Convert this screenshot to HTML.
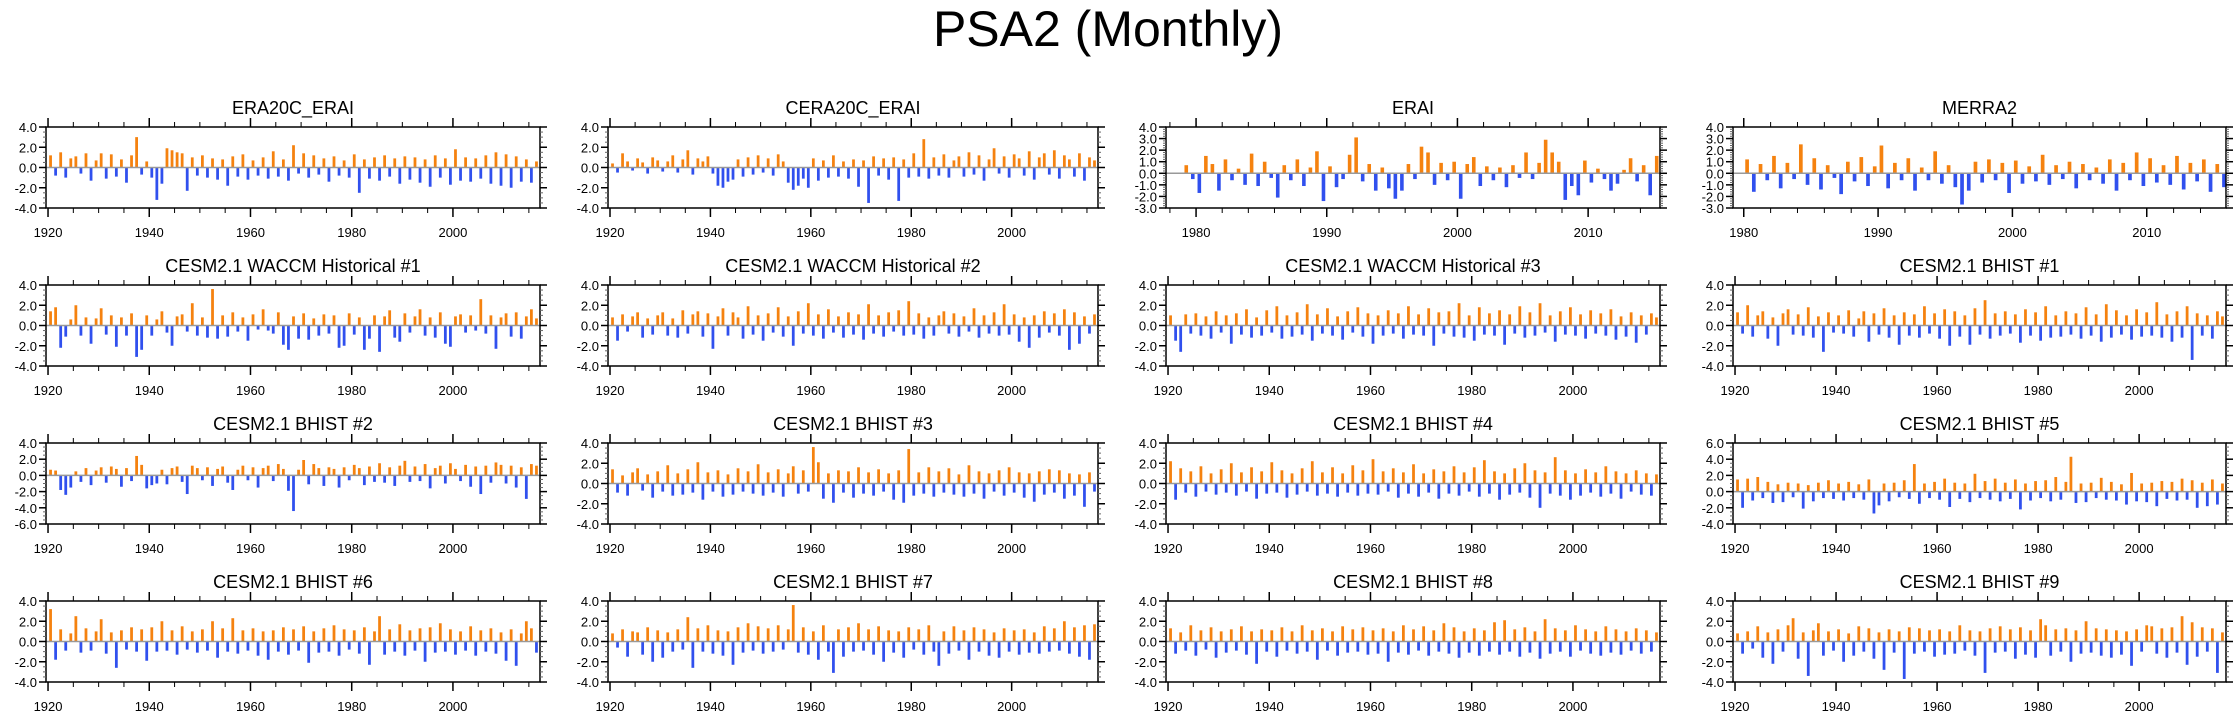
<!DOCTYPE html>
<html><head><meta charset="utf-8">
<style>
html,body{margin:0;padding:0;background:#fff;}
svg{display:block;font-family:"Liberation Sans",Arial,sans-serif;}
</style></head>
<body>
<svg id="fig" width="2238" height="719" viewBox="0 0 2238 719" xmlns="http://www.w3.org/2000/svg">
<text x="1108" y="46" font-size="50" text-anchor="middle" fill="#000">PSA2 (Monthly)</text>
</svg>
<script>
const titles = ["ERA20C_ERAI","CERA20C_ERAI","ERAI","MERRA2",
"CESM2.1 WACCM Historical #1","CESM2.1 WACCM Historical #2","CESM2.1 WACCM Historical #3","CESM2.1 BHIST #1",
"CESM2.1 BHIST #2","CESM2.1 BHIST #3","CESM2.1 BHIST #4","CESM2.1 BHIST #5",
"CESM2.1 BHIST #6","CESM2.1 BHIST #7","CESM2.1 BHIST #8","CESM2.1 BHIST #9"];
const yMin = [-4,-4,-3,-3, -4,-4,-4,-4, -6,-4,-4,-4, -4,-4,-4,-4];
const yMax = [4,4,4,4, 4,4,4,4, 4,4,4,6, 4,4,4,4];
const yStep = [2,2,1,1, 2,2,2,2, 2,2,2,2, 2,2,2,2];
const startYear = [1920,1920,1979,1980, 1920,1920,1920,1920, 1920,1920,1920,1920, 1920,1920,1920,1920];
const xStart = [1919.6,1919.6,1977.7,1979.2, 1919.6,1919.6,1919.6,1919.6, 1919.6,1919.6,1919.6,1919.6, 1919.6,1919.6,1919.6,1919.6];
const xEnd = [2017.2,2017.2,2015.5,2015.9, 2017.2,2017.2,2017.2,2017.2, 2017.2,2017.2,2017.2,2017.2, 2017.2,2017.2,2017.2,2017.2];
const yearTicksLong = [1920,1940,1960,1980,2000];
const yearTicksShort = [1980,1990,2000,2010];

const d0 = [1.2,-0.8,1.5,-1.0,0.9,1.1,-0.6,1.4,-1.3,0.7,1.4,-1.1,1.3,-0.9,0.8,-1.5,1.2,3.0,-0.7,0.6,-1.0,-3.2,-1.6,1.9,1.7,1.5,1.4,-2.3,1.0,-0.8,1.2,-1.0,0.9,-1.2,0.8,-1.8,1.1,-0.9,1.3,-1.2,0.7,-0.8,1.0,-1.1,1.6,-0.9,0.8,-1.3,2.2,-0.6,1.4,-1.0,1.2,-0.7,0.9,-1.4,1.1,-0.8,0.7,-1.0,1.3,-2.5,0.8,-1.1,1.0,-1.3,1.2,-0.9,0.9,-1.6,1.1,-1.2,1.0,-1.5,0.8,-1.9,1.2,-1.0,0.9,-1.7,1.8,-1.3,1.0,-1.4,0.9,-1.1,1.2,-1.6,1.5,-1.8,1.3,-2.0,1.1,-1.4,0.8,-1.5,0.6];
const d1 = [0.4,-0.5,1.4,0.6,-0.3,0.9,0.5,-0.6,1.0,0.7,-0.4,0.6,1.2,-0.5,0.8,1.7,-0.7,0.9,0.6,1.1,-0.6,-1.8,-2.0,-1.4,-1.2,0.8,-0.9,1.0,-0.7,1.2,-0.5,0.9,-0.8,1.3,0.6,-1.5,-2.2,-1.8,-1.1,-2.0,0.9,-1.3,0.7,-1.0,1.2,-0.9,0.6,-1.1,0.8,-1.9,0.7,-3.5,1.1,-0.8,0.9,-1.2,1.0,-3.3,0.8,-1.0,1.4,-0.9,2.8,-1.1,1.0,-0.8,1.3,-1.0,0.7,1.1,-0.9,1.5,-0.7,1.2,-1.3,0.8,1.9,-0.6,1.1,-1.0,1.3,0.9,-0.8,1.6,-1.2,1.0,1.4,-0.7,1.7,-1.1,1.2,0.8,-0.9,1.4,-1.3,1.0,0.7];
const d2 = [0.7,-0.5,-1.7,1.5,0.8,-1.5,1.2,-0.6,0.4,-1.0,1.7,-1.1,1.0,-0.4,-2.1,0.7,-0.6,1.2,-1.1,0.5,1.9,-2.4,0.6,-1.2,-0.5,1.6,3.1,-0.7,0.8,-1.5,0.5,-1.3,-2.2,-1.5,0.8,-0.5,2.3,1.8,-1.0,0.9,-0.6,1.0,-2.2,0.8,1.4,-1.1,0.6,-0.6,0.5,-1.2,0.7,-0.4,1.8,-0.5,0.9,2.9,1.8,1.0,-2.3,-1.1,-1.9,1.1,-0.8,0.4,-0.5,-1.5,-0.9,0.3,1.3,-0.7,0.7,-1.9,1.5];
const d3 = [1.2,-1.6,0.8,-0.6,1.5,-1.3,0.9,-0.5,2.5,-1.0,1.3,-1.4,0.7,-0.4,-1.8,1.0,-0.7,1.4,-1.1,0.6,2.4,-1.3,0.9,-0.6,1.3,-1.5,0.5,-0.6,1.9,-0.9,0.7,-1.2,-2.7,-1.5,1.0,-0.8,1.2,-0.6,0.9,-1.7,1.1,-0.9,0.6,-0.7,1.6,-1.0,0.7,-0.5,1.0,-1.3,0.8,-0.6,0.5,-0.9,1.2,-1.5,0.9,-0.6,1.8,-1.1,1.3,-0.8,0.7,-1.0,1.5,-1.4,0.9,-0.7,1.2,-1.6,0.8,-1.2];
const d4 = [1.4,1.8,-2.2,-1.1,0.6,2.0,-1.0,0.8,-1.8,0.7,1.7,-0.9,1.0,-2.1,0.8,-1.0,1.2,-3.1,-2.4,1.0,-1.0,0.6,1.4,-0.7,-2.0,0.9,1.1,-0.6,2.2,-1.0,0.8,-1.2,3.6,-1.3,1.0,-1.1,1.3,-0.6,0.8,-1.5,1.1,-0.4,1.6,-0.5,-0.8,1.3,-1.9,-2.4,0.9,-1.3,1.2,-1.4,0.7,-1.0,1.1,-0.8,1.0,-2.2,-2.0,1.2,-0.9,0.8,-2.4,-1.3,1.0,-2.6,0.9,1.5,-1.2,-1.6,1.2,-0.7,0.9,1.6,-1.0,0.8,-1.2,1.3,-1.8,-2.1,0.9,1.1,-0.7,1.0,-0.5,2.6,-0.8,1.0,-2.3,0.8,1.2,-1.1,1.3,-1.3,0.9,1.6,0.7];
const d5 = [0.8,-1.5,1.1,-0.6,0.9,1.3,-1.2,0.7,-0.9,1.0,1.3,-1.0,0.7,-1.2,1.5,-0.8,1.1,1.4,-1.1,1.2,-2.3,0.9,1.7,-1.0,1.3,0.8,-1.3,1.9,-0.9,1.0,-1.5,1.2,-0.7,1.8,-1.1,0.9,-2.0,1.4,-0.8,2.2,-1.0,1.1,-1.3,1.6,-0.7,0.9,-1.2,1.3,-0.9,1.1,-1.4,2.1,-0.8,1.0,-1.1,1.3,-0.6,1.5,-1.0,2.4,-0.9,1.2,-1.3,0.8,-1.0,1.0,1.4,-0.8,1.2,-1.1,0.9,-0.6,1.7,-1.2,1.0,-0.8,1.3,-1.0,2.1,-0.9,1.1,-1.6,0.8,-2.2,1.0,-1.2,1.4,-0.7,1.2,-1.0,1.6,-2.4,1.3,-1.8,0.9,-0.8,1.1];
const d6 = [1.0,-1.5,-2.6,1.1,-0.8,1.2,-1.0,0.9,-1.3,1.4,-0.7,1.0,-1.8,1.2,-0.9,1.6,-1.2,0.8,-1.0,1.5,-0.7,1.9,-1.3,1.0,-1.1,1.3,-0.9,2.1,-1.5,1.1,-0.8,1.7,-1.0,0.9,-1.4,1.4,-0.7,1.8,-1.1,1.2,-1.8,1.0,-1.0,1.5,-0.8,1.2,-1.3,1.9,-0.9,1.1,-1.0,1.7,-2.0,1.3,-0.8,1.4,-1.1,2.2,-1.2,1.0,-1.5,1.8,-0.9,1.2,-1.0,1.5,-1.9,1.1,-0.8,1.9,-1.2,1.3,-1.0,2.2,-0.7,1.0,-1.6,1.4,-0.9,1.8,-1.0,1.1,-1.3,1.5,-0.8,1.2,-1.0,1.6,-1.4,0.9,-1.1,1.3,-1.7,1.0,-0.9,1.2,0.8];
const d7 = [1.3,-0.8,2.0,-1.1,1.0,1.4,-1.3,0.8,-2.0,1.2,1.6,-0.9,1.1,-1.0,1.8,-1.2,0.9,-2.6,1.3,-0.7,1.0,-0.8,1.5,-1.1,0.7,1.4,-1.6,1.2,-0.9,1.7,-1.2,1.0,-1.9,1.3,-1.0,1.1,-1.2,1.9,-0.8,1.2,-1.3,1.6,-2.0,1.4,-1.1,1.0,-1.9,1.7,-0.9,2.5,-1.3,1.2,-1.0,1.4,-0.8,1.1,-1.7,1.6,-1.0,1.3,-1.5,1.9,-1.2,1.0,-1.1,1.4,-0.9,1.2,-1.3,1.8,-1.0,1.1,-1.6,2.1,-1.2,1.5,-0.9,1.0,-1.4,1.6,-1.1,1.3,-1.0,2.3,-1.2,1.1,-1.6,1.4,-1.2,1.9,-3.4,1.2,-1.0,1.0,-1.3,1.4,0.9];
const d8 = [0.7,0.6,-1.8,-2.4,-1.5,0.5,-0.8,0.9,-1.2,0.6,1.0,-0.9,1.1,0.8,-1.4,0.9,-0.7,2.4,1.3,-1.6,-1.2,-1.0,0.7,-1.1,0.9,1.1,-0.8,-2.3,1.2,0.9,-0.6,1.0,-1.3,0.8,1.1,-0.9,-1.8,0.7,1.2,-0.6,1.0,-1.5,0.9,1.2,-0.7,1.4,0.8,-1.9,-4.4,0.7,1.9,-1.1,1.4,0.9,-1.3,1.0,0.8,-1.5,1.0,-0.6,1.3,0.9,-1.2,1.1,-0.8,1.5,-0.9,1.0,-1.3,1.2,1.8,-0.8,1.1,-0.7,1.4,-1.6,0.9,1.2,-1.0,1.5,0.8,-0.7,1.3,-1.4,1.1,-2.3,1.2,-0.9,1.6,1.3,-1.0,1.2,-1.5,1.0,-2.9,1.4,1.2];
const d9 = [1.4,-0.9,0.8,-1.2,1.1,1.5,-0.7,0.9,-1.4,1.2,-0.8,1.8,-1.2,1.0,-1.1,1.4,-0.9,2.1,-1.6,1.1,-0.8,1.3,-1.3,0.9,-1.1,1.5,-0.8,1.2,-1.0,1.9,-1.2,1.1,-0.9,1.4,-1.3,1.0,1.7,-1.0,1.3,-0.8,3.6,2.1,-1.5,1.0,-1.9,1.3,-0.9,1.2,-1.4,1.6,-1.0,1.1,-1.2,1.4,-0.8,1.0,-1.6,1.3,-1.9,3.4,-1.2,1.1,-1.0,1.6,-1.3,1.2,-0.9,1.5,-1.1,0.9,-1.3,1.8,-1.0,1.2,-1.5,1.0,-0.8,1.3,-1.2,1.6,-0.9,1.1,-1.4,1.0,-1.8,1.2,-1.1,1.4,-0.9,1.3,-1.5,1.0,-1.2,0.9,-2.3,1.1,-0.8];
const d10 = [2.2,-1.6,1.5,-0.9,1.2,-1.3,1.7,-0.8,1.0,-1.1,1.4,-0.9,2.0,-1.2,1.1,-0.8,1.6,-1.5,1.2,-1.0,2.1,-0.9,1.3,-1.4,1.0,-1.1,1.5,-0.8,2.2,-1.2,1.1,-1.0,1.6,-1.3,1.0,-0.9,1.8,-1.2,1.3,-1.0,2.4,-1.1,1.2,-0.8,1.5,-1.4,1.1,-1.0,1.9,-1.3,1.0,-0.9,1.4,-1.5,1.2,-1.0,1.7,-1.2,1.1,-0.8,1.6,-1.3,2.3,-1.0,1.2,-1.6,1.0,-1.1,1.5,-0.9,2.0,-1.4,1.3,-2.4,1.1,-1.0,2.6,-1.2,1.3,-1.6,1.0,-1.2,1.4,-0.9,1.1,-1.3,1.7,-1.0,1.2,-1.5,1.0,-0.8,1.3,-1.1,1.0,-1.2,0.9];
const d11 = [1.5,-2.0,1.6,-1.1,1.8,-0.8,1.2,-1.4,0.9,-1.3,1.1,-0.7,1.0,-2.1,0.8,-1.2,1.1,-0.8,1.4,-0.9,1.0,-1.1,1.2,-0.8,0.9,-1.0,1.5,-2.7,-1.7,1.0,-1.2,1.1,-0.7,1.4,-0.9,3.4,-1.5,1.0,-0.8,1.2,-1.0,1.6,-1.9,1.1,-0.9,1.0,-1.3,2.2,-0.8,1.3,-1.0,1.6,-1.2,1.1,-0.9,1.5,-2.2,1.0,-1.1,1.3,-0.8,1.4,-1.2,1.8,-1.0,1.2,4.3,-1.4,1.0,-1.3,1.1,-0.8,1.7,-1.0,1.2,-1.1,0.9,-1.6,2.3,-1.2,1.0,-1.3,1.1,-1.8,1.3,-0.9,1.2,-1.1,1.6,-1.0,1.4,-2.0,1.1,-1.8,1.5,-1.6,1.0];
const d12 = [3.2,-1.8,1.2,-0.9,0.8,2.5,-1.1,1.3,-0.9,1.0,2.2,-1.2,0.9,-2.6,1.1,-0.8,1.4,-1.0,1.2,-1.9,1.4,-1.0,2.0,-0.9,1.1,-1.3,1.5,-0.8,1.0,-1.1,1.2,-0.9,2.0,-1.6,1.3,-1.0,2.3,-1.2,1.1,-0.9,1.3,-1.4,1.0,-1.8,1.1,-1.0,1.4,-1.3,1.2,-0.9,1.5,-2.1,1.0,-1.1,1.3,-1.0,1.6,-1.4,1.2,-0.8,1.1,-1.2,1.4,-2.3,1.0,2.5,-1.3,1.2,-1.0,1.7,-1.4,1.1,-0.9,1.3,-2.0,1.4,-1.1,1.8,-1.0,1.2,-1.3,1.0,-0.9,1.5,-1.4,1.1,-1.0,1.3,-1.2,0.9,-1.9,1.2,-2.4,0.8,2.0,1.3,-1.1];
const d13 = [0.8,-0.6,1.2,-1.5,1.0,0.9,-1.3,1.4,-2.0,1.1,-1.6,0.9,-1.0,1.2,-0.8,2.4,-2.6,1.3,-1.0,1.6,-1.2,1.1,-1.4,1.0,-2.3,1.4,-1.1,1.8,-0.9,1.5,-1.2,1.3,-1.0,1.6,-0.8,1.2,3.6,-1.1,1.4,-1.3,1.0,-1.8,1.6,-1.0,-3.1,1.2,-1.5,1.4,-1.0,1.8,-0.9,1.2,-1.3,1.5,-2.0,1.1,-1.1,1.0,-1.6,1.4,-0.8,1.2,-1.3,1.6,-1.0,-2.4,1.0,-1.2,1.5,-0.9,1.1,-1.8,1.4,-1.0,1.2,-1.4,0.9,-1.6,1.3,-1.0,1.1,-1.3,1.2,-1.1,0.9,-1.2,1.5,-1.0,1.3,-0.9,2.0,-1.2,1.4,-1.5,1.6,-1.8,1.7,1.6];
const d14 = [1.3,-1.2,0.9,-0.9,1.6,-1.4,1.1,-0.8,1.4,-1.6,1.0,-1.1,1.2,-0.9,1.5,-1.3,1.0,-2.2,1.2,-1.0,1.1,-1.5,1.4,-0.9,1.0,-1.2,1.6,-1.0,1.1,-1.8,1.3,-0.9,1.0,-1.4,1.5,-1.1,1.2,-1.0,1.4,-1.3,1.1,-1.2,1.3,-2.0,1.0,-1.1,1.6,-1.3,1.2,-0.9,1.5,-1.4,1.1,-1.0,1.8,-1.2,1.4,-1.6,1.0,-1.1,1.3,-1.4,1.1,-1.0,1.9,-1.3,2.1,-1.0,1.2,-1.5,1.4,-1.1,1.0,-1.7,2.2,-1.2,1.3,-1.0,1.1,-1.5,1.6,-0.9,1.2,-1.2,1.0,-1.4,1.5,-1.1,1.2,-1.3,1.0,-0.9,1.3,-1.2,1.1,-1.0,0.9];
const d15 = [0.8,-1.2,1.0,-0.7,1.5,-1.6,0.9,-2.2,1.2,-1.0,1.6,2.3,-1.7,0.9,-3.4,1.1,1.8,-1.4,1.0,-0.9,1.2,-2.0,0.8,-1.4,1.5,-1.0,1.3,-1.7,0.9,-2.8,1.2,-1.1,1.0,-3.7,1.4,-1.2,1.3,-1.0,1.1,-1.5,1.2,-1.3,1.0,-1.2,1.6,-0.9,1.1,-1.4,1.0,-3.1,1.3,-1.1,1.5,-1.0,1.2,-1.7,1.4,-1.3,1.1,-1.6,2.2,1.6,-1.4,1.2,-1.0,1.3,-2.0,1.1,-1.2,2.0,-1.1,1.3,-1.4,1.2,-1.6,1.1,-1.3,1.0,-2.4,1.2,-1.0,1.6,1.5,-1.2,1.3,-1.6,1.4,-1.1,2.5,-2.3,1.9,-1.5,1.4,-1.0,1.3,-3.1,0.9];
const series = [d0,d1,d2,d3,d4,d5,d6,d7,d8,d9,d10,d11,d12,d13,d14,d15];

const NS = "http://www.w3.org/2000/svg";
const svg = document.getElementById('fig');
const colLeft = [46, 608, 1166, 1733];
const colRight = [540, 1098, 1660, 2226];
const rowTop = [127, 285, 443, 601];
const boxH = 81;
function mk(tag, attrs, parent){
  const e = document.createElementNS(NS, tag);
  for (const k in attrs) e.setAttribute(k, attrs[k]);
  (parent||svg).appendChild(e);
  return e;
}
for (let p = 0; p < 16; p++) {
  const r = Math.floor(p/4), c = p%4;
  const L = colLeft[c], R = colRight[c], T = rowTop[r], B = T + boxH;
  const short = (p === 2 || p === 3);
  const x0 = xStart[p], x1 = xEnd[p];
  const xs = v => L + (v - x0) / (x1 - x0) * (R - L);
  const ys = v => B - (v - yMin[p]) / (yMax[p] - yMin[p]) * (B - T);
  const g = mk('g', {});
  
  
  const t = mk('text', {x:(L+R)/2, y:T-13, 'font-size':18, 'text-anchor':'middle', fill:'#000'}, g);
  
  
  t.textContent = titles[p];
  const data = series[p];
  const step = short ? 0.5 : 1;
  const bw = Math.max(1.5, (xs(x0+step) - xs(x0)) * 0.55);
  const bars = mk('g', {}, g);
  
  
  for (let i = 0; i < data.length; i++) {
    const v = data[i];
    const cx = xs(startYear[p] + i*step + step/2);
    if (cx > R - 1) continue;
    const y0 = ys(0), y1 = ys(v);
    const b = mk('rect', {x:cx-bw/2, y:Math.min(y0,y1), width:bw, height:Math.abs(y1-y0), fill: v>=0 ? '#f5820f' : '#3050ee'}, bars);
    
    
  }
  mk('line', {x1:L, x2:R, y1:ys(0), y2:ys(0), stroke:'#999', 'stroke-width':1.5}, g);
  const frame = mk('rect', {x:L, y:T, width:R-L, height:B-T, fill:'none', stroke:'#000', 'stroke-width':1.5}, g);
  
  
  const ym = (yMax[p]-yMin[p]) <= 7 ? 0.2 : 0.5;
  for (let v = yMin[p]; v <= yMax[p] + 1e-6; v += ym) {
    const y = ys(v);
    mk('line', {x1:L-3, x2:L, y1:y, y2:y, stroke:'#666', 'stroke-width':1}, g);
    mk('line', {x1:R, x2:R+3, y1:y, y2:y, stroke:'#666', 'stroke-width':1}, g);
  }
  for (let v = yMin[p]; v <= yMax[p] + 1e-6; v += yStep[p]) {
    const y = ys(v);
    mk('line', {x1:L-7, x2:L, y1:y, y2:y, stroke:'#000', 'stroke-width':1.5}, g);
    mk('line', {x1:R, x2:R+7, y1:y, y2:y, stroke:'#000', 'stroke-width':1.5}, g);
    const lab = mk('text', {x:L-9, y:y+5, 'font-size':13, 'text-anchor':'end', fill:'#000'}, g);
    
    
    lab.textContent = v.toFixed(1);
  }
  const ticks = short ? yearTicksShort : yearTicksLong;
  const minor = short ? 2 : 5;
  for (let yr = Math.ceil(x0/minor)*minor; yr <= x1; yr += minor) {
    const x = xs(yr);
    mk('line', {x1:x, x2:x, y1:T-5, y2:T, stroke:'#000', 'stroke-width':1}, g);
    mk('line', {x1:x, x2:x, y1:B, y2:B+5, stroke:'#000', 'stroke-width':1}, g);
  }
  for (const yr of ticks) {
    const x = xs(yr);
    mk('line', {x1:x, x2:x, y1:T-9, y2:T, stroke:'#000', 'stroke-width':1.5}, g);
    mk('line', {x1:x, x2:x, y1:B, y2:B+9, stroke:'#000', 'stroke-width':1.5}, g);
    const lab = mk('text', {x:x, y:B+29, 'font-size':13, 'text-anchor':'middle', fill:'#000'}, g);
    
    
    lab.textContent = yr;
  }
}
</script>
</body></html>
